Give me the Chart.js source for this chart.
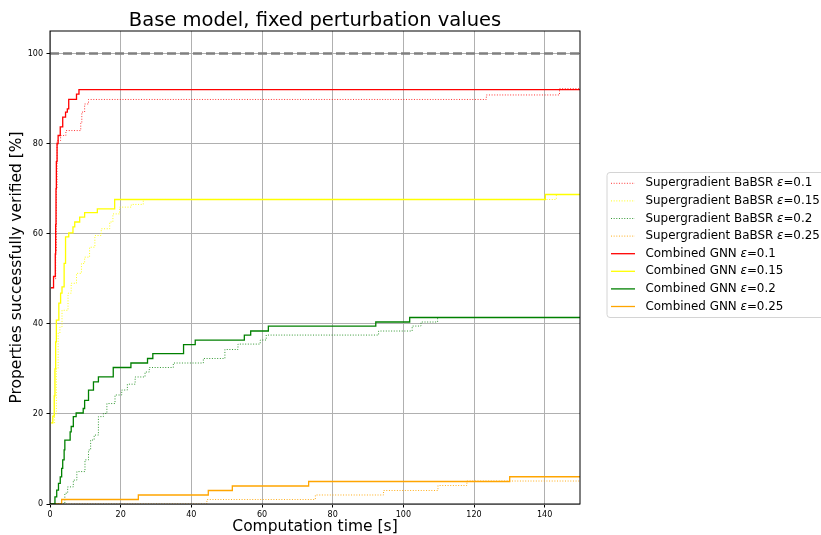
<!DOCTYPE html>
<html>
<head>
<meta charset="utf-8">
<script src="https://cdn.jsdelivr.net/npm/chart.js@4.4.0/dist/chart.umd.min.js"></script>
<style>
  body { margin: 0; background: #fff; }
  #wrap { width: 821px; height: 535px; }
</style>
</head>
<body>
<div id="wrap"><canvas id="verifiedChart" width="821" height="535"></canvas></div>
<script>
// step times [s] and share of verified properties [%]
const sgTime01 = [0.3, 1.0, 1.6, 1.8, 2.0, 3.0, 4.5, 8.7, 9.0, 9.8, 10.9, 123.5, 144.2, 150];
const sgVal01  = [48, 50, 56, 70, 80.7, 81.8, 82.9, 84.5, 87, 88.8, 89.8, 90.8, 92.2, 92.2];
const sgTime015 = [0.5, 1.3, 1.8, 2.3, 2.8, 3.4, 5.1, 6.0, 7.5, 8.9, 9.8, 11.2, 12.7, 14.5, 16.9, 17.8, 19.7, 23, 26.4, 143.3, 150];
const sgVal015  = [18, 20, 30, 37.9, 39.3, 43, 46.8, 49, 51.2, 53.4, 54.8, 57, 59.6, 61.1, 62.6, 64.4, 65.9, 66.5, 67.6, 68.7, 68.7];
const sgTime02 = [0, 4.2, 5.0, 6.6, 7.6, 9.9, 10.9, 11.5, 12.5, 13.7, 15.1, 16.1, 18.4, 20.3, 21.9, 24.1, 26.9, 28.1, 34.9, 43.4, 49.5, 53.2, 59.5, 61.2, 93, 102.5, 105, 109.7, 150];
const sgVal02  = [0, 2.4, 3.8, 5.3, 7.2, 9.8, 12, 14.2, 15.3, 19.4, 20.1, 22.3, 24.2, 25.3, 26.6, 28.2, 29.3, 30.3, 31.3, 32.3, 34.3, 35.5, 36.4, 37.5, 38.4, 39.5, 40.4, 41.4, 41.4];
const sgTime025 = [0, 44.4, 75.1, 94.4, 109.8, 118, 150];
const sgVal025  = [0, 1.0, 2.0, 3.0, 4.1, 5.1, 5.1];

const gnnTime01 = [0.3, 1.0, 1.5, 1.6, 1.7, 1.8, 2.0, 2.3, 2.9, 3.6, 4.4, 4.9, 5.3, 7.5, 8.2, 150];
const gnnVal01  = [48, 50.5, 55.5, 62, 70, 76, 80, 81.8, 83.7, 85.9, 87, 87.7, 89.8, 91, 92, 92];
const gnnTime015 = [0.3, 0.8, 1.2, 1.4, 1.6, 1.8, 2.5, 3.0, 3.4, 4.0, 4.4, 5.3, 6.5, 7.0, 8.4, 9.8, 13.4, 18.3, 140.2, 150];
const gnnVal015  = [18, 19.5, 24, 30, 36, 40.8, 44.6, 46.8, 48.2, 53.4, 59.3, 60.2, 61.5, 62.6, 63.7, 64.7, 65.5, 67.6, 68.7, 68.7];
const gnnTime02 = [0, 1.4, 1.9, 2.4, 2.9, 3.3, 3.6, 4.0, 4.2, 5.7, 6.0, 6.6, 7.4, 9.4, 9.8, 10.9, 12.3, 13.7, 17.9, 22.9, 27.6, 29.1, 37.8, 41.1, 55, 56.8, 61.8, 92.2, 101.8, 150];
const gnnVal02  = [0, 1.6, 3.1, 4.6, 6, 7.9, 9.8, 12, 14.2, 16, 17.2, 19.4, 20.2, 21.2, 23, 25.3, 27.1, 28.2, 30.3, 31.3, 32.3, 33.4, 35.4, 36.4, 37.5, 38.4, 39.5, 40.4, 41.4, 41.4];
const gnnTime025 = [0, 3.3, 25, 44.8, 51.6, 73.2, 130.1, 150];
const gnnVal025  = [0, 1.0, 2.0, 3.0, 4.0, 5.0, 6.05, 6.05];

const refLevel = [100];
const xTicks = [0, 20, 40, 60, 80, 100, 120, 140];
const yTicks = [0, 20, 40, 60, 80, 100];

const pts = (t, v) => t.map((x, i) => ({ x: x, y: v[i] }));

const sgLine = (label, color, t, v) => ({
    label: label,
    data: pts(t, v),
    borderColor: color,
    borderWidth: 1,
    borderDash: [1, 1.65],
    stepped: true,
    pointRadius: 0,
    order: 2
});

const gnnLine = (label, color, t, v) => ({
    label: label,
    data: pts(t, v),
    borderColor: color,
    borderWidth: 1.3,
    stepped: true,
    pointRadius: 0,
    order: 1
});

Chart.defaults.font.family = "'DejaVu Sans', sans-serif";
Chart.defaults.color = '#000';

// title, spines and the outside legend (matplotlib style)
const decorPlugin = {
    id: 'decor',
    afterDatasetsDraw(chart) {
        const { ctx, chartArea: a } = chart;
        ctx.save();
        ctx.strokeStyle = '#000';
        ctx.lineWidth = 1;
        ctx.strokeRect(a.left, a.top, a.right - a.left, a.bottom - a.top);
        ctx.restore();
    },
    afterDraw(chart) {
        const { ctx, chartArea: a } = chart;
        ctx.save();
        ctx.fillStyle = '#000';
        ctx.font = "19.5px 'DejaVu Sans'";
        ctx.textAlign = 'center';
        ctx.textBaseline = 'alphabetic';
        ctx.fillText('Base model, fixed perturbation values', (a.left + a.right) / 2, 26);

        // legend box
        const boxX = 607, boxY = 172.5, boxH = 145;
        ctx.beginPath();
        ctx.roundRect(boxX, boxY, 240, boxH, 3);
        ctx.fillStyle = 'rgba(255,255,255,0.8)';
        ctx.fill();
        ctx.strokeStyle = '#d4d4d4';
        ctx.lineWidth = 1;
        ctx.stroke();

        const items = chart.data.datasets.filter(d => d.label);
        items.forEach((d, i) => {
            const y = 183.3 + i * 17.6;
            ctx.beginPath();
            ctx.setLineDash(d.borderDash || []);
            ctx.strokeStyle = d.borderColor;
            ctx.lineWidth = d.borderWidth;
            ctx.moveTo(611, y);
            ctx.lineTo(635, y);
            ctx.stroke();
            ctx.setLineDash([]);

            const parts = d.label.split('ε');
            ctx.fillStyle = '#000';
            ctx.textAlign = 'left';
            ctx.textBaseline = 'middle';
            let x = 645.5;
            ctx.font = "11.9px 'DejaVu Sans'";
            ctx.fillText(parts[0], x, y);
            x += ctx.measureText(parts[0]).width;
            ctx.font = "italic 11.9px 'DejaVu Sans'";
            ctx.fillText('ε', x, y);
            x += ctx.measureText('ε').width;
            ctx.font = "11.9px 'DejaVu Sans'";
            ctx.fillText(parts[1], x, y);
        });
        ctx.restore();
    }
};

const ctx = document.getElementById('verifiedChart').getContext('2d');
new Chart(ctx, {
    type: 'line',
    data: {
        datasets: [
            sgLine('Supergradient BaBSR ε=0.1', 'rgba(255,0,0,0.8)', sgTime01, sgVal01),
            sgLine('Supergradient BaBSR ε=0.15', 'rgba(255,255,0,0.9)', sgTime015, sgVal015),
            sgLine('Supergradient BaBSR ε=0.2', 'rgba(0,128,0,0.8)', sgTime02, sgVal02),
            sgLine('Supergradient BaBSR ε=0.25', 'rgba(255,165,0,0.9)', sgTime025, sgVal025),
            gnnLine('Combined GNN ε=0.1', '#ff0000', gnnTime01, gnnVal01),
            gnnLine('Combined GNN ε=0.15', '#ffff00', gnnTime015, gnnVal015),
            gnnLine('Combined GNN ε=0.2', '#008000', gnnTime02, gnnVal02),
            gnnLine('Combined GNN ε=0.25', '#ffa500', gnnTime025, gnnVal025),
            {
                data: [{ x: 0, y: refLevel[0] }, { x: 150, y: refLevel[0] }],
                borderColor: '#808080',
                borderWidth: 2.5,
                borderDash: [9, 4],
                pointRadius: 0,
                order: 3
            }
        ]
    },
    options: {
        responsive: false,
        animation: false,
        layout: {
            padding: { left: 0, right: 241, top: 31, bottom: 0 }
        },
        plugins: {
            legend: { display: false },
            title: { display: false },
            tooltip: { enabled: false }
        },
        scales: {
            x: {
                type: 'linear',
                min: 0,
                max: 150,
                afterBuildTicks: s => { s.ticks = xTicks.map(v => ({ value: v })); },
                afterFit: s => { s.height = 31; },
                ticks: { font: { size: 8 }, padding: 3, maxRotation: 0 },
                grid: { color: '#b0b0b0', lineWidth: 1, tickLength: 3.5, tickColor: '#000' },
                border: { display: false },
                title: {
                    display: true,
                    text: 'Computation time [s]',
                    font: { size: 15.5 },
                    padding: { top: 0, bottom: -1 }
                }
            },
            y: {
                min: 0,
                max: 105,
                afterBuildTicks: s => { s.ticks = yTicks.map(v => ({ value: v })); },
                afterFit: s => { s.width = 50; },
                ticks: { font: { size: 8 }, padding: 3.5 },
                grid: { color: '#b0b0b0', lineWidth: 1, tickLength: 3.5, tickColor: '#000' },
                border: { display: false },
                title: {
                    display: true,
                    text: 'Properties successfully verified [%]',
                    font: { size: 15.5 },
                    padding: { top: 7.7, bottom: 0 }
                }
            }
        }
    },
    plugins: [decorPlugin]
});
</script>
</body>
</html>
